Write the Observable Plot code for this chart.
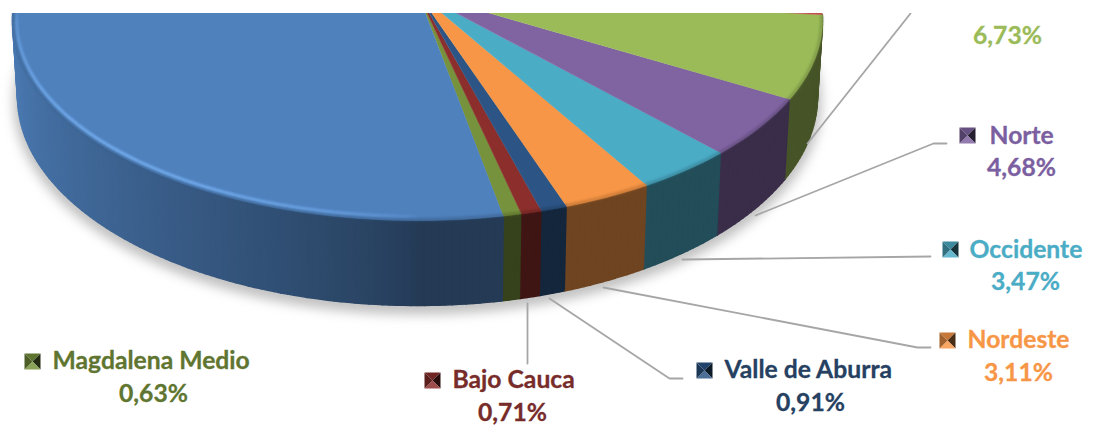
<!DOCTYPE html>
<html><head><meta charset="utf-8">
<style>html,body{margin:0;padding:0;background:#fff}svg{display:block}</style>
<script src="https://cdn.jsdelivr.net/npm/d3@7"></script>
<script src="https://cdn.jsdelivr.net/npm/@observablehq/plot@0.6"></script>
</head><body><div id="chart"></div>
<script>
// ---- data
const categories = ["Magdalena Medio", "Bajo Cauca", "Valle de Aburra", "Nordeste", "Occidente", "Norte", ""];
const shares = [0.63, 0.71, 0.91, 3.11, 3.47, 4.68, 6.73];
const hiddenShare = 5;   // red slice, mostly cropped away; its label is not visible
// ---- styles
const sliceColors = ["#76923c", "#8c2f2c", "#2c5585", "#f79646", "#4bacc6", "#8064a2", "#9bbb59"];
const textColors = ["#5f7530", "#772c2a", "#254061", "#f79646", "#4bacc6", "#7b5fa0", "#9bbb59"];
const hiddenColor = "#c0504d", restColor = "#4f81bd";
// ---- layout of labels
const labelName = [[52,361,"start"],[452,380,"start"],[724,370,"start"],[967,340,"start"],[969,250,"start"],[989,136,"start"],null];
const labelValue = [[153,394],[512,413],[810,403],[1018,373],[1025,282],[1021,168],[1007,36]];
const keyPos = [[32,361],[432,380],[704,370],[947,340],[950,249],[967,135],null];
const leaders = [
  [[527,303],[527,363]],
  [[549,298],[669,378],[682,378]],
  [[603,287],[917,347],[930,347]],
  [[682,259],[930,256]],
  [[755,215],[933,143],[946,143]],
  [[807,143],[910,13]]
];
// ---- pie geometry (3D view of the circle)
const cx = 417, apexY = -8;
const top_ = {a: 405, b: 200, cy: 20}, bot = {a: 400, b: 209, cy: 96};
const rad = Math.PI / 180, persp = 1.2, spread = 0.975, startTrue = 10.2;
const view = t => 2 * Math.atan(persp * Math.tan(t * rad / 2)) / rad;
const rim = (phi, e, inset = 0) => [cx + (e.a - inset) * Math.sin(phi * rad), e.cy + (e.b - inset) * Math.cos(phi * rad)];
const mix = (hex, k) => { const c = d3.rgb(hex); return d3.rgb(c.r * k, c.g * k, c.b * k).formatHex(); };

let cum = startTrue;
const slices = shares.map((s, i) => { const t0 = cum; cum += s * 3.6 * spread; return {name: categories[i], p0: view(t0), p1: view(cum), color: sliceColors[i]}; });
const first = slices[0].p0, lastP = slices[slices.length - 1].p1;
const redEnd = lastP + hiddenShare * 3.6;
slices.push({p0: lastP, p1: redEnd, color: hiddenColor});
slices.push({p0: redEnd, p1: first + 360, color: restColor});

const range = (a, b, step = 1) => { const r = d3.range(a, b, step); r.push(b); return r; };

// top face polygons
const topPts = [];
slices.forEach((s, i) => {
  topPts.push({id: i, x: cx, y: apexY, c: s.color});
  range(s.p0, s.p1).forEach(p => { const [x, y] = rim(p, top_); topPts.push({id: i, x, y, c: s.color}); });
});
// side strips, shaded by position around the rim
const shade = p => p >= 0 ? 0.45 : 0.46 + 0.5 * Math.pow(Math.min(1, (-p) / 90), 0.8);
const sidePts = []; let sid = 0;
const sides = slices.flatMap(s => [s, {...s, p0: s.p0 - 360, p1: s.p1 - 360}]);
sides.forEach(s => {
  const a = Math.max(s.p0, -105), b = Math.min(s.p1, lastP);
  if (a >= b) return;
  const st = range(a, b);
  for (let k = 0; k < st.length - 1; k++) {
    const c = mix(s.color, shade((st[k] + st[k + 1]) / 2));
    [rim(st[k], top_), rim(st[k + 1], top_), rim(st[k + 1], bot), rim(st[k], bot)]
      .forEach(([x, y]) => sidePts.push({id: sid, x, y, c}));
    sid++;
  }
});
// shadow outline
const shadowPts = range(-100, 100).map(p => { const [x, y] = rim(p, bot); return {x, y: y + 5}; });
// rim highlight and soft edge
const rimSegs = [], softSegs = [];
sides.forEach(s => {
  const a = Math.max(s.p0, -100), b = Math.min(s.p1, lastP);
  if (a >= b) return;
  const st = range(a, b);
  for (let k = 0; k < st.length - 1; k++) {
    const [x1, y1] = rim(st[k], top_, 1), [x2, y2] = rim(st[k + 1], top_, 1);
    softSegs.push({x1, y1, x2, y2, c: mix(s.color, 0.72)});
    if (s.color === restColor) {
      const m = (st[k] + st[k + 1]) / 2;
      const [u1, v1] = rim(st[k], top_, 4), [u2, v2] = rim(st[k + 1], top_, 4);
      rimSegs.push({x1: u1, y1: v1, x2: u2, y2: v2, o: Math.max(0, Math.sin(Math.min(1, (-m) / 95) * Math.PI)) ** 0.5});
    }
  }
});
// bevelled legend keys
const keyPts = []; let kid = 0;
const R = 8;
keyPos.forEach((pos, i) => {
  if (!pos) return;
  const [x0, y0] = pos, base = sliceColors[i];
  const tris = [
    [[-R,-R],[R,-R],[0,0], mix(base, 0.8)],
    [[R,-R],[R,R],[0,0], mix(base, 0.3)],
    [[R,R],[-R,R],[0,0], d3.interpolateRgb(base, "#fff")(0.15)],
    [[-R,R],[-R,-R],[0,0], mix(base, 0.65)]
  ];
  tris.forEach(t => { for (let j = 0; j < 3; j++) keyPts.push({id: kid, x: x0 + t[j][0], y: y0 + t[j][1], c: t[3]}); kid++; });
});
const leaderPts = leaders.flatMap((l, i) => l.map(([x, y]) => ({id: i, x, y})));
const nameRows = categories.map((n, i) => labelName[i] && {n, x: labelName[i][0], y: labelName[i][1], c: textColors[i]}).filter(Boolean);
const valueRows = shares.map((s, i) => ({n: s.toFixed(2).replace(".", ",") + "%", x: labelValue[i][0], y: labelValue[i][1], c: textColors[i]}));

const font = {fontFamily: "Lato", fontWeight: 700, fontSize: 24.7, stroke: "c", strokeWidth: 0.3};
const chart = Plot.plot({
  width: 1096, height: 434, marginTop: 13, marginLeft: 0, marginRight: 0, marginBottom: 0,
  style: {background: "#fff"},
  x: {type: "linear", domain: [0, 1096], range: [0, 1096], axis: null},
  y: {type: "linear", domain: [13, 434], range: [13, 434], axis: null},
  color: {type: "identity"},
  marks: [
    Plot.line(shadowPts, {x: "x", y: "y", fill: "#9a9a9a", stroke: "#9a9a9a", strokeWidth: 8, fillOpacity: 0.55, strokeOpacity: 0.55, imageFilter: "blur(6px)", clip: true}),
    Plot.line(sidePts, {x: "x", y: "y", z: "id", fill: "c", stroke: "c", strokeWidth: 1.5, clip: true}),
    Plot.line(topPts, {x: "x", y: "y", z: "id", fill: "c", stroke: "c", strokeWidth: 0.5, clip: true}),
    Plot.link(softSegs, {x1: "x1", y1: "y1", x2: "x2", y2: "y2", stroke: "c", strokeWidth: 3, strokeOpacity: 0.6, imageFilter: "blur(1px)", clip: true}),
    Plot.link(rimSegs, {x1: "x1", y1: "y1", x2: "x2", y2: "y2", stroke: "#74aef0", strokeWidth: 3, strokeOpacity: "o", imageFilter: "blur(1px)", clip: true}),
    Plot.line(leaderPts, {x: "x", y: "y", z: "id", stroke: "#a6a6a6", strokeWidth: 1.8, clip: true}),
    Plot.line(keyPts, {x: "x", y: "y", z: "id", fill: "c", stroke: "none"}),
    Plot.text(nameRows, {x: "x", y: "y", text: "n", fill: "c", textAnchor: "start", ...font}),
    Plot.text(valueRows, {x: "x", y: "y", text: "n", fill: "c", textAnchor: "middle", ...font})
  ]
});
document.getElementById("chart").append(chart);
</script></body></html>
